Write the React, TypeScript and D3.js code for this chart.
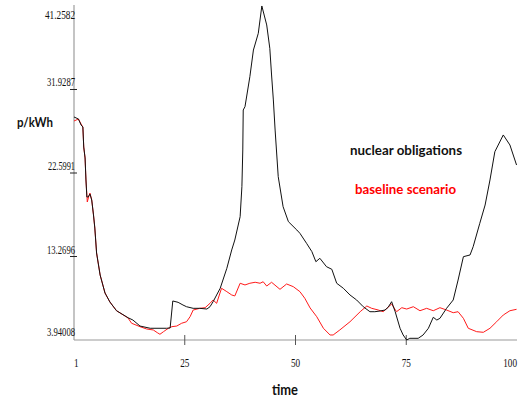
import React from "react";
import * as d3 from "d3";

const nuclearTime = [0, 1, 1.6, 2, 2.2, 2.5, 2.7, 2.9, 3.2, 3.6, 4, 4.4, 4.7, 5.1, 5.9, 7, 8.1, 9.6, 12.2, 13.3, 14.9, 17.2, 20.9, 21.7, 22.3, 23.5, 24.6, 25.4, 26.9, 28.4, 30, 30.7, 31.4, 33, 34.5, 35.6, 36.3, 37.5, 37.9, 38.1, 38.2, 38.6, 39.7, 40.5, 41.6, 42.4, 43.5, 44.2, 44.6, 45, 45.4, 46.1, 47.2, 48.4, 50.3, 51, 52.5, 53.7, 54.6, 55.5, 57, 58.2, 59.3, 60.8, 62.3, 63.8, 65.3, 66.8, 67.9, 69.1, 70.2, 70.9, 71.7, 72.5, 73.6, 74.3, 75.1, 75.8, 77.7, 78.8, 80, 81.1, 81.9, 82.6, 84.1, 85.6, 86.7, 87.9, 89.4, 90.1, 91.6, 92.8, 93.9, 95, 96.9, 98.4, 99.9];
const nuclearValues = [28.86, 28.63, 27.96, 27.74, 25.5, 24.28, 21.82, 19.92, 19.92, 20.25, 19.58, 17.91, 16.45, 13.66, 11.2, 9.19, 8.19, 7.21, 6.43, 6.17, 5.5, 5.25, 5.25, 5.28, 8.3, 8.15, 7.85, 7.66, 7.48, 7.48, 7.4, 7.66, 8.22, 9.72, 11.95, 14.0, 15.11, 17.72, 21.07, 25.17, 29.64, 30.01, 33.36, 36.34, 38.21, 41.26, 39.14, 36.53, 33.55, 30.76, 27.4, 22.19, 18.83, 17.16, 16.23, 15.86, 14.74, 13.81, 12.69, 13.07, 12.13, 11.84, 10.28, 9.72, 8.97, 8.41, 7.66, 7.1, 7.1, 7.18, 7.29, 7.59, 8.22, 7.1, 5.25, 4.5, 3.94, 4.13, 4.13, 4.5, 5.25, 6.48, 6.17, 6.36, 7.48, 8.41, 10.64, 13.25, 13.44, 14.36, 16.98, 19.02, 21.82, 24.98, 26.85, 25.73, 23.49];

const baselineTime = [0, 1, 1.6, 2, 2.2, 2.5, 2.7, 3, 3.3, 3.6, 4, 4.4, 4.7, 5.1, 5.9, 7, 8.1, 9.6, 12.2, 13, 14.9, 16.4, 17.9, 18.8, 19.4, 20.2, 21.3, 22.1, 23.2, 24.3, 25.4, 26.2, 26.9, 28.4, 29.6, 30.7, 31.4, 32.2, 33.3, 34.5, 35.6, 36.3, 37.5, 38.6, 39.7, 40.9, 42, 42.7, 43.5, 44.6, 46.5, 48, 49.5, 51, 52.1, 53.3, 54.8, 56.3, 57.8, 58.5, 60, 62.3, 64.6, 66.1, 67.2, 68.7, 69.8, 71.7, 72.8, 74, 75.1, 76.6, 78.1, 79.6, 81.1, 82.6, 84.1, 85.6, 86.7, 87.9, 89, 90.9, 92.4, 93.9, 95.4, 96.9, 98.4, 99.9];
const baselineValues = [28.41, 28.63, 28.07, 27.74, 25.5, 24.28, 21.82, 19.36, 19.92, 20.36, 19.58, 17.91, 16.45, 13.66, 11.2, 9.19, 8.19, 7.21, 6.4, 5.81, 5.43, 5.17, 5.06, 4.76, 4.58, 4.87, 5.25, 5.43, 5.5, 5.81, 5.98, 6.54, 7.29, 7.48, 7.55, 8.04, 8.41, 8.04, 9.72, 9.34, 8.97, 8.86, 10.28, 10.09, 10.28, 10.39, 10.28, 10.45, 9.97, 10.39, 9.6, 10.2, 9.9, 9.34, 8.6, 7.52, 6.54, 5.25, 4.5, 4.5, 5.06, 5.98, 7.1, 7.74, 7.48, 7.29, 7.1, 7.96, 7.1, 7.55, 7.4, 7.66, 7.21, 7.48, 7.21, 7.55, 7.29, 6.99, 7.1, 6.36, 5.25, 4.87, 4.8, 5.25, 5.98, 6.73, 7.21, 7.37];

const yTickValues = [3.94008, 13.2696, 22.5991, 31.9287, 41.2582];
const yTickLabels = ["3.94008", "13.2696", "22.5991", "31.9287", "41.2582"];
const xTickValues = [0, 25, 50, 75, 100];
const xTickLabels = ["1", "25", "50", "75", "100"];
const seriesNames = ["nuclear obligations", "baseline scenario"];

export default function App() {
  const W = 520, H = 401;
  const left = 74, right = 517, top = 6, bottom = 340;
  const x = d3.scaleLinear().domain([0, 100]).range([left, right]);
  const y = d3.scaleLinear().domain([3.94008, 41.2582]).range([bottom, top]);
  const line = d3.line<[number, number]>().x(d => x(d[0])).y(d => y(d[1]));
  const nuc = nuclearTime.map((t, i) => [t, nuclearValues[i]] as [number, number]);
  const base = baselineTime.map((t, i) => [t, baselineValues[i]] as [number, number]);
  const tickFont = "'Liberation Serif', serif";
  const labelFont = "Lato, 'Open Sans', sans-serif";
  const yLabelWidths = [28, 28, 27, 28, 30];
  return (
    <svg width={W} height={H} style={{ position: "absolute", left: 0, top: 0, background: "#fff" }}>
      <line x1={left} x2={left} y1={top - 1} y2={bottom} stroke="#c4c4c4" strokeWidth={2} />
      <line x1={left} x2={right} y1={bottom} y2={bottom} stroke="#999" strokeWidth={1.2} />
      {yTickValues.map((v, i) => (
        <g key={"yt" + i}>
          {i > 0 && i < yTickValues.length - 1 && (
            <line x1={left - 4} x2={left + 3} y1={y(v)} y2={y(v)} stroke="#222" strokeWidth={1} />
          )}
          <text
            x={75}
            y={i === yTickValues.length - 1 ? 19 : y(v) - (i === 0 ? 4 : 3)}
            textAnchor="end"
            fontFamily={tickFont}
            fontSize={12}
            textLength={yLabelWidths[i]}
            lengthAdjust="spacingAndGlyphs"
            fill="#111"
          >
            {yTickLabels[i]}
          </text>
        </g>
      ))}
      {xTickValues.map((v, i) => (
        <g key={"xt" + i}>
          {i > 0 && i < xTickValues.length - 1 && (
            <line x1={x(v)} x2={x(v)} y1={bottom - 5} y2={bottom + 5} stroke="#555" strokeWidth={1} />
          )}
          <text
            x={i === 0 ? x(v) : x(v)}
            y={367}
            textAnchor={i === 0 ? "start" : i === xTickValues.length - 1 ? "end" : "middle"}
            fontFamily={tickFont}
            fontSize={12}
            textLength={xTickLabels[i].length * 4.6}
            lengthAdjust="spacingAndGlyphs"
            fill="#111"
          >
            {xTickLabels[i]}
          </text>
        </g>
      ))}
      <path d={line(base) || ""} fill="none" stroke="#ff1a1a" strokeWidth={1} />
      <path d={line(nuc) || ""} fill="none" stroke="#111" strokeWidth={1} />
      <text x={17} y={127} fontFamily={labelFont} fontWeight="bold" fontSize={14} textLength={36} lengthAdjust="spacingAndGlyphs" fill="#111">p/kWh</text>
      <text x={272} y={395} fontFamily={labelFont} fontWeight="bold" fontSize={16} textLength={26} lengthAdjust="spacingAndGlyphs" fill="#111">time</text>
      <text x={350} y={155} fontFamily={labelFont} fontWeight="bold" fontSize={14} textLength={112} lengthAdjust="spacingAndGlyphs" fill="#111">{seriesNames[0]}</text>
      <text x={355} y={194} fontFamily={labelFont} fontWeight="bold" fontSize={14} textLength={101} lengthAdjust="spacingAndGlyphs" fill="#ff0000">{seriesNames[1]}</text>
    </svg>
  );
}
